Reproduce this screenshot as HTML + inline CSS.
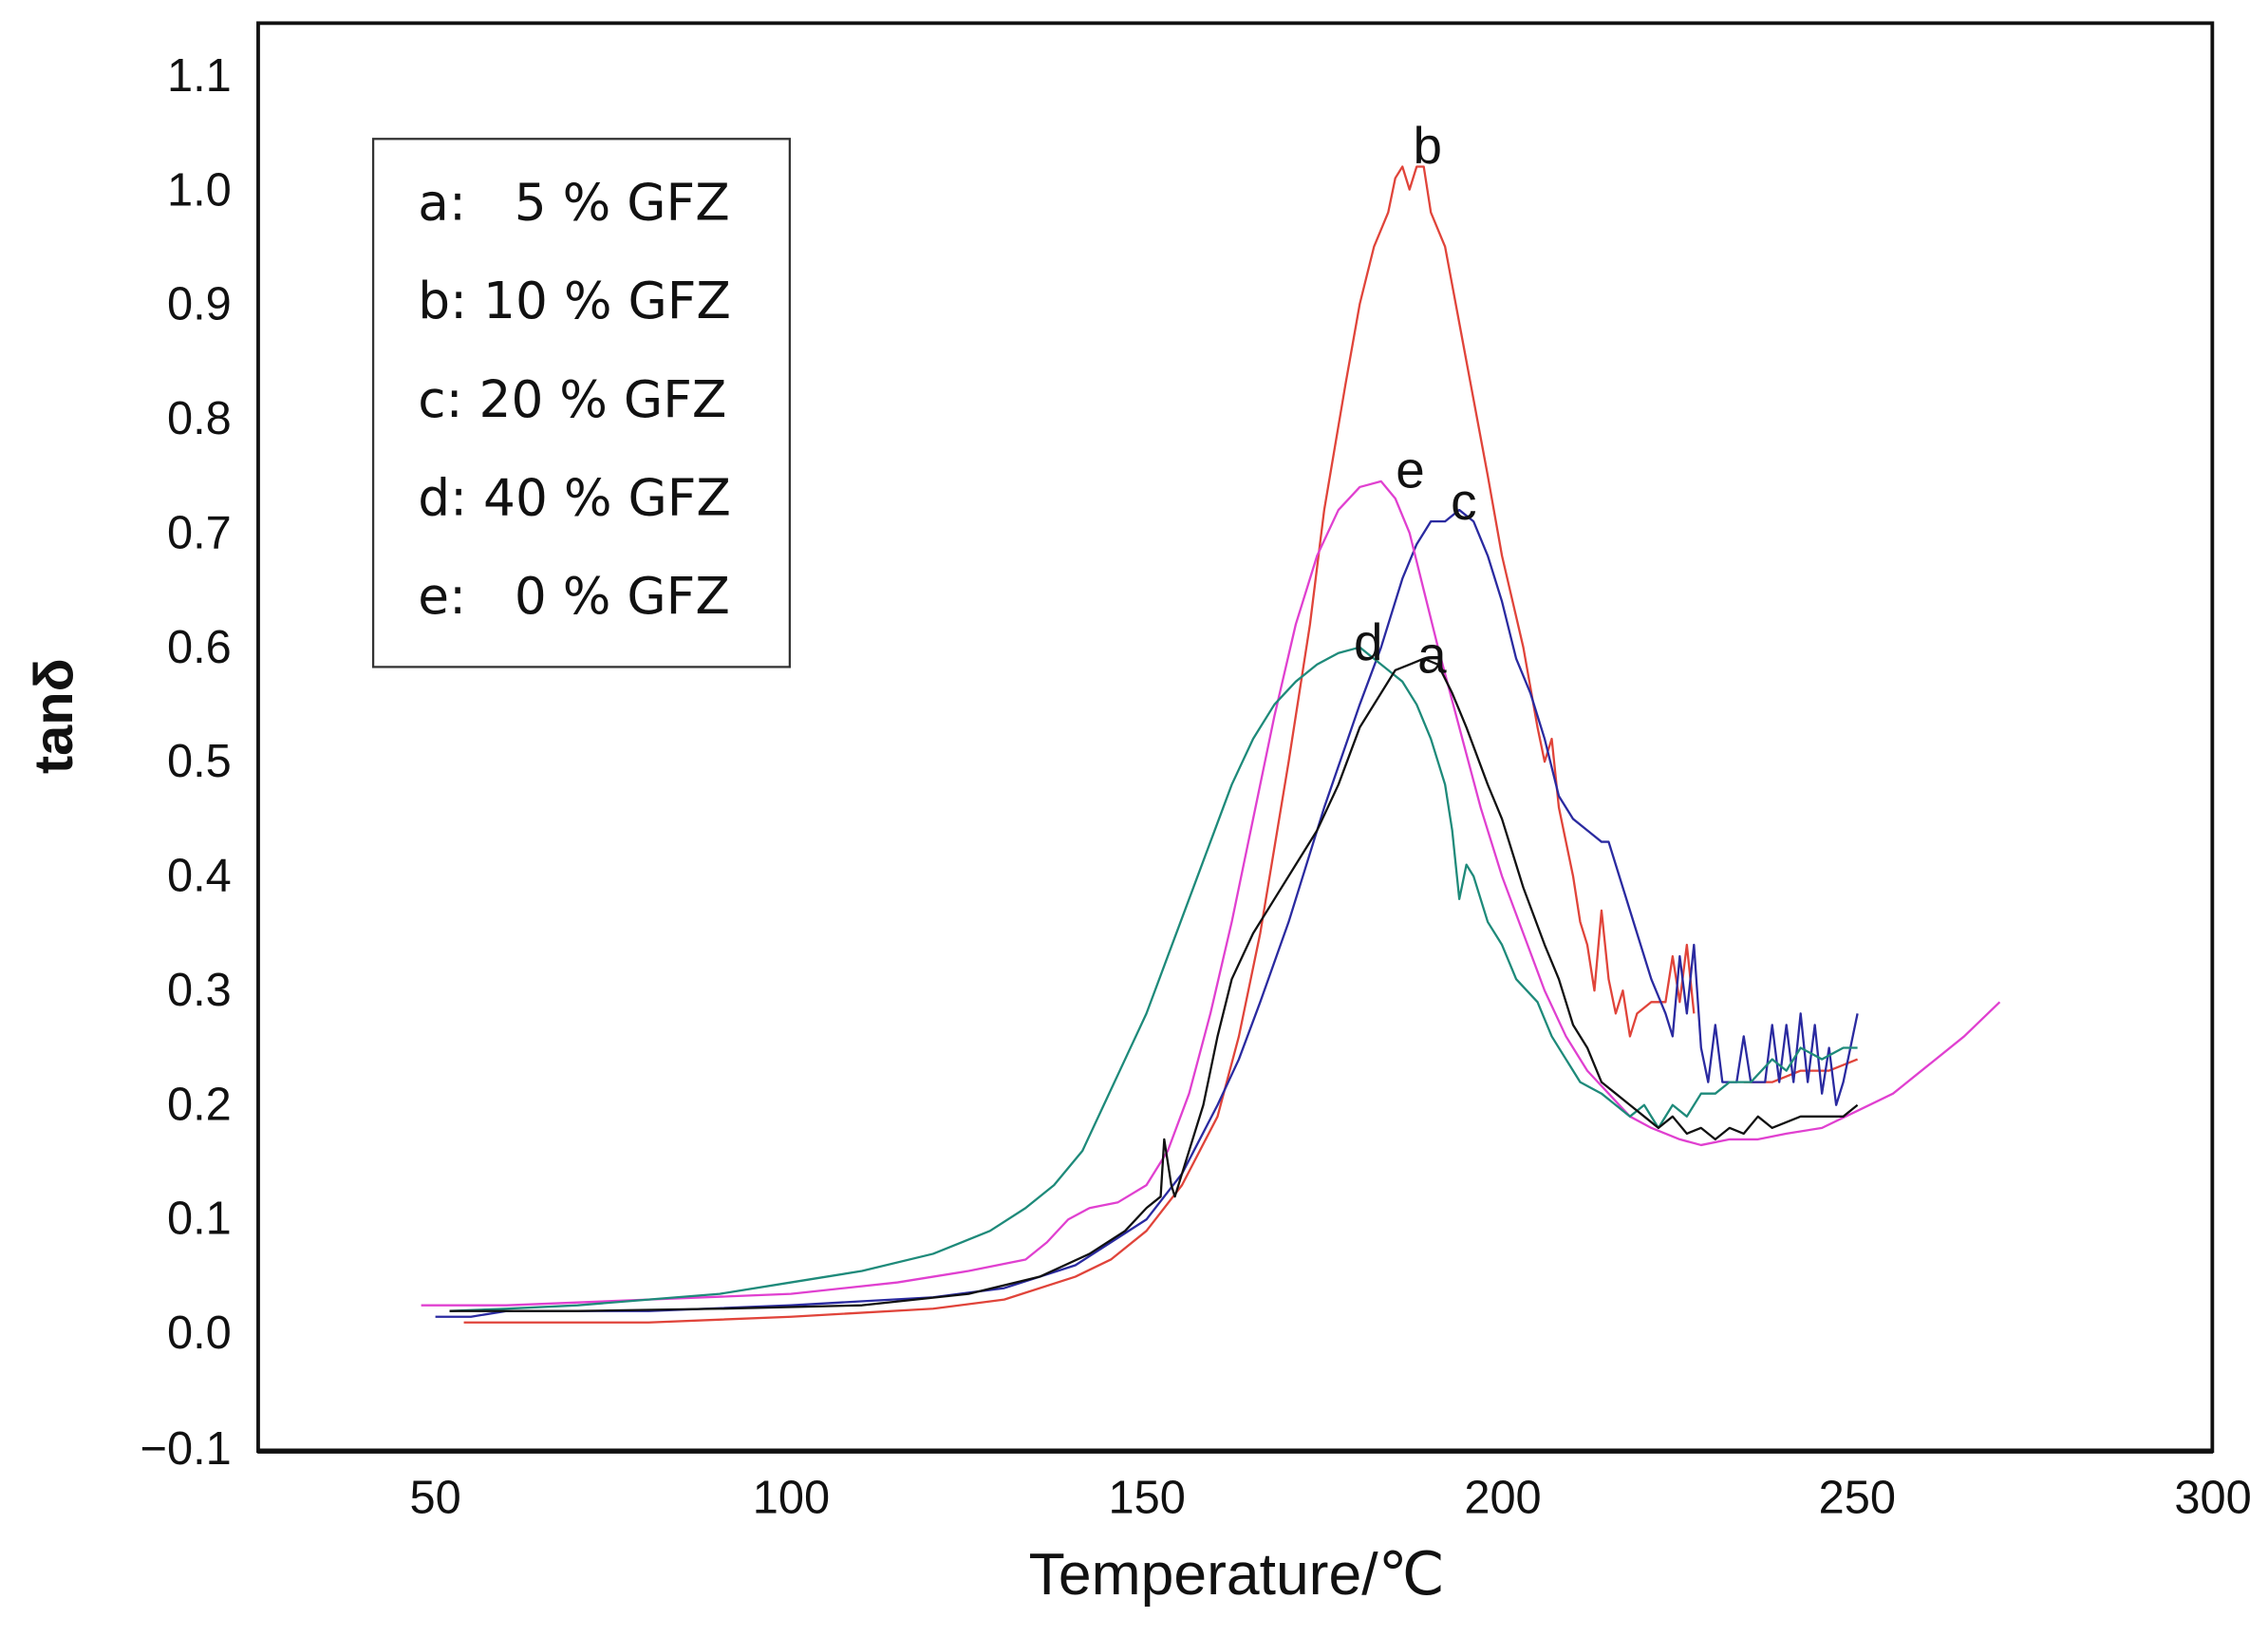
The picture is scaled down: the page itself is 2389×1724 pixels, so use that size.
<!DOCTYPE html>
<html><head><meta charset="utf-8"><style>
html,body{margin:0;padding:0;background:#fff}
svg{display:block}
.pre{white-space:pre}
</style></head><body>
<svg width="2389" height="1724" viewBox="0 0 1568 1131.5" preserveAspectRatio="none" xmlns="http://www.w3.org/2000/svg">
<rect width="1568" height="1131.5" fill="#fff"/>
<g font-family="Liberation Sans, sans-serif" font-size="32" fill="#111" text-anchor="end">
<text x="160" y="63">1.1</text>
<text x="160" y="142">1.0</text>
<text x="160" y="221">0.9</text>
<text x="160" y="300">0.8</text>
<text x="160" y="379">0.7</text>
<text x="160" y="458">0.6</text>
<text x="160" y="537">0.5</text>
<text x="160" y="616">0.4</text>
<text x="160" y="695">0.3</text>
<text x="160" y="774">0.2</text>
<text x="160" y="853">0.1</text>
<text x="160" y="932">0.0</text>
<text x="160" y="1012">−0.1</text>
</g>
<g font-family="Liberation Sans, sans-serif" font-size="32" fill="#111" text-anchor="middle">
<text x="301" y="1046">50</text>
<text x="547" y="1046">100</text>
<text x="793" y="1046">150</text>
<text x="1039" y="1046">200</text>
<text x="1284" y="1046">250</text>
<text x="1530" y="1046">300</text>
</g>
<text x="855" y="1102" font-family="Liberation Sans, sans-serif" font-size="41" text-anchor="middle" fill="#111">Temperature/℃</text>
<text transform="translate(50,495) rotate(-90)" font-family="Liberation Sans, sans-serif" font-size="38" font-weight="bold" text-anchor="middle" fill="#111">tanδ</text>

<rect x="178.5" y="16" width="1351" height="987" fill="none" stroke="#111" stroke-width="2.5"/>
<line x1="178" y1="1003" x2="1530" y2="1003" stroke="#111" stroke-width="3.5"/>

<rect x="258" y="96" width="288" height="365" fill="none" stroke="#333" stroke-width="1.5"/>
<g font-family="DejaVu Sans, Liberation Sans, sans-serif" font-size="35" fill="#111">
<text class="pre" x="289" y="152" xml:space="preserve">a:   5 % GFZ</text>
<text class="pre" x="289" y="220">b: 10 % GFZ</text>
<text class="pre" x="289" y="288">c: 20 % GFZ</text>
<text class="pre" x="289" y="356">d: 40 % GFZ</text>
<text class="pre" x="289" y="424" xml:space="preserve">e:   0 % GFZ</text>
</g>

<g transform="matrix(4.916 0 0 -791 55.2 922)" fill="none" stroke-width="2.3" stroke-linejoin="round">
<polyline vector-effect="non-scaling-stroke" stroke="#e0443a" points="54,0.01 80,0.01 100,0.015 120,0.022 130,0.03 140,0.05 145,0.065 150,0.09 155,0.13 160,0.19 163,0.26 166,0.35 170,0.5 173,0.62 175,0.72 178,0.83 180,0.9 182,0.95 184,0.98 185,1.01 186,1.02 187,1.0 188,1.02 189,1.02 190,0.98 192,0.95 195,0.85 198,0.75 200,0.68 203,0.6 205,0.53 206,0.5 207,0.52 208,0.46 210,0.4 211,0.36 212,0.34 213,0.3 214,0.37 215,0.31 216,0.28 217,0.3 218,0.26 219,0.28 221,0.29 223,0.29 224,0.33 225,0.29 226,0.34 227,0.28"/>
<polyline vector-effect="non-scaling-stroke" stroke="#e0443a" points="234,0.22 238,0.22 242,0.23 246,0.23 250,0.24"/>
<polyline vector-effect="non-scaling-stroke" stroke="#2a2aa0" points="50,0.015 55,0.015 60,0.02 80,0.02 100,0.025 120,0.032 130,0.04 140,0.06 145,0.08 150,0.1 155,0.14 160,0.2 163,0.24 166,0.29 170,0.36 175,0.46 180,0.55 183,0.6 186,0.66 188,0.69 190,0.71 192,0.71 194,0.72 196,0.71 198,0.68 200,0.64 202,0.59 204,0.56 206,0.52 208,0.47 210,0.45 212,0.44 214,0.43 215,0.43 217,0.39 219,0.35 221,0.31 223,0.28 224,0.26 225,0.33 226,0.28 227,0.34 228,0.25 229,0.22 230,0.27 231,0.22 233,0.22 234,0.26 235,0.22 237,0.22 238,0.27 239,0.22 240,0.27 241,0.22 242,0.28 243,0.22 244,0.27 245,0.21 246,0.25 247,0.2 248,0.22 249,0.25 250,0.28"/>
<polyline vector-effect="non-scaling-stroke" stroke="#e040d0" points="48,0.025 60,0.025 80,0.03 100,0.035 115,0.045 125,0.055 133,0.065 136,0.08 139,0.1 142,0.11 146,0.115 150,0.13 153,0.16 156,0.21 159,0.28 162,0.36 165,0.45 168,0.54 171,0.62 174,0.68 177,0.72 180,0.74 183,0.745 185,0.73 187,0.7 189,0.65 191,0.6 194,0.53 197,0.46 200,0.4 203,0.35 206,0.3 209,0.26 212,0.23 215,0.21 218,0.19 221,0.18 225,0.17 228,0.165 232,0.17 236,0.17 240,0.175 245,0.18 250,0.195 255,0.21 260,0.235 265,0.26 270,0.29"/>
<polyline vector-effect="non-scaling-stroke" stroke="#1e8a7a" points="52,0.02 60,0.022 70,0.025 80,0.03 90,0.035 100,0.045 110,0.055 120,0.07 128,0.09 133,0.11 137,0.13 141,0.16 144,0.2 147,0.24 150,0.28 153,0.33 156,0.38 159,0.43 162,0.48 165,0.52 168,0.55 171,0.57 174,0.585 177,0.595 180,0.6 182,0.59 184,0.58 186,0.57 188,0.55 190,0.52 192,0.48 193,0.44 194,0.38 195,0.41 196,0.4 198,0.36 200,0.34 202,0.31 205,0.29 207,0.26 209,0.24 211,0.22 214,0.21 216,0.2 218,0.19 220,0.2 222,0.18 224,0.2 226,0.19 228,0.21 230,0.21 232,0.22 235,0.22 238,0.24 240,0.23 242,0.25 245,0.24 248,0.25 250,0.25"/>
<polyline vector-effect="non-scaling-stroke" stroke="#111" points="52,0.02 70,0.02 90,0.022 110,0.025 125,0.035 135,0.05 142,0.07 147,0.09 150,0.11 152,0.12 152.5,0.17 153.5,0.13 154,0.12 156,0.16 158,0.2 160,0.26 162,0.31 165,0.35 168,0.38 171,0.41 174,0.44 177,0.48 180,0.53 183,0.56 185,0.58 187,0.585 189,0.59 191,0.585 193,0.56 195,0.53 198,0.48 200,0.45 203,0.39 206,0.34 208,0.31 210,0.27 212,0.25 214,0.22 216,0.21 218,0.2 220,0.19 222,0.18 224,0.19 226,0.175 228,0.18 230,0.17 232,0.18 234,0.175 236,0.19 238,0.18 240,0.185 242,0.19 245,0.19 248,0.19 250,0.2"/>
</g>
<g font-family="Liberation Sans, sans-serif" font-size="36" fill="#111" text-anchor="middle">
<text x="987" y="113">b</text>
<text x="975" y="337">e</text>
<text x="1012" y="359">c</text>
<text x="946" y="456">d</text>
<text x="990" y="465">a</text>
</g>
</svg>
</body></html>
